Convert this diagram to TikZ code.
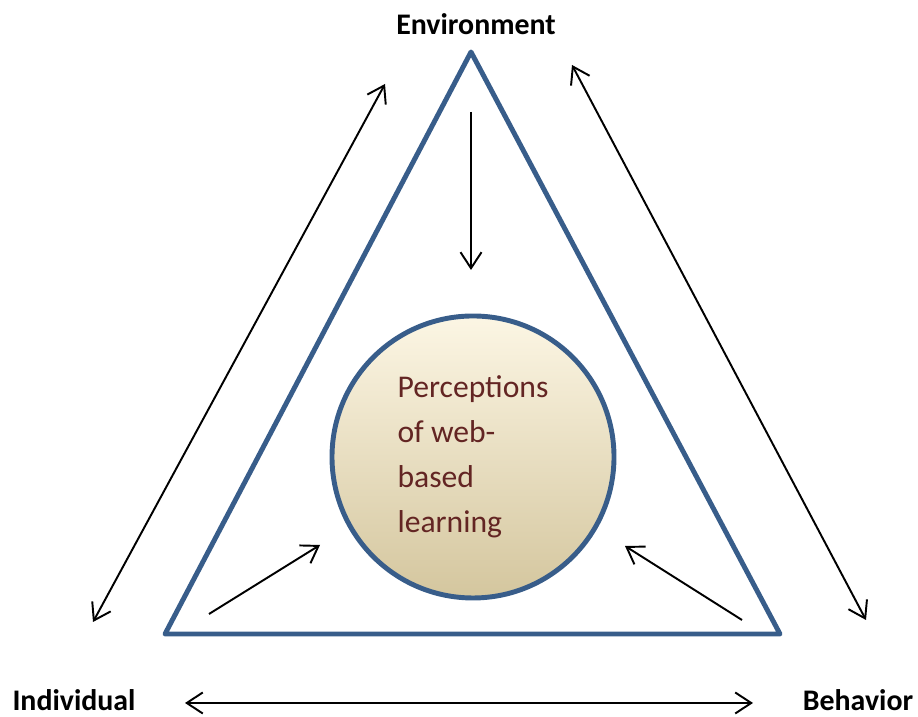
\documentclass[tikz,border=0pt]{standalone}
\usepackage{fontspec}
\setmainfont{Carlito}
\setsansfont{Carlito}
\definecolor{triblue}{RGB}{56,93,138}
\definecolor{textred}{RGB}{99,37,35}
\definecolor{creamtop}{RGB}{252,246,228}
\definecolor{tanbottom}{RGB}{212,198,158}
\tikzset{every picture/.style={/utils/exec={\sffamily}}}
\usetikzlibrary{arrows.meta}
\usetikzlibrary{positioning}

\tikzset{
  corner label/.style={font=\fontsize{8.5}{10}\selectfont\bfseries},
  link/.style={draw=black, line width=0.55pt, >={Straight Barb[length=1.6mm,width=2.1mm]}},
}

\begin{document}
\begin{tikzpicture}
  \useasboundingbox (0,0) rectangle (9.18,7.17);

  % triangle
  \coordinate (apex) at (4.71,6.65);
  \coordinate (left) at (1.65,0.83);
  \coordinate (right) at (7.80,0.83);
  \draw [triblue, line width=1.4pt, line join=round] (apex) -- (left) -- (right) -- cycle;

  \node [circle, draw=triblue, line width=1.4pt, minimum size=2.82cm,
         top color=creamtop, bottom color=tanbottom, text=textred,
         align=left, font=\fontsize{9}{12.8}\selectfont, inner sep=0pt]
        (percep) at (4.73,2.60) {Perceptions\\of web-\\based\\learning};

  \node [corner label] (env) at (4.76,6.93) {Environment};
  \node [corner label] (ind) at (0.74,0.17) {Individual};
  \node [corner label] (beh) at (8.58,0.17) {Behavior};

  % outer arrows
  \coordinate (ls) at (0.93,0.95);
  \coordinate (le) at (3.85,6.33);
  \coordinate (rs) at (5.72,6.52);
  \coordinate (re) at (8.66,0.97);
  \coordinate (bs) at (1.85,0.14);
  \coordinate (be) at (7.53,0.14);
  \draw [link, <->] (ls) -- (le);
  \draw [link, <->] (rs) -- (re);
  \draw [link, <->] (bs) -- (be);

  % inner arrows
  \coordinate (ds) at (4.71,6.05);
  \coordinate (de) at (4.71,4.47);
  \coordinate (lbs) at (2.09,1.03);
  \coordinate (lbe) at (3.20,1.72);
  \coordinate (rbs) at (7.42,0.97);
  \coordinate (rbe) at (6.25,1.71);
  \draw [link, ->] (ds) -- (de);
  \draw [link, ->] (lbs) -- (lbe);
  \draw [link, ->] (rbs) -- (rbe);
\end{tikzpicture}
\end{document}
